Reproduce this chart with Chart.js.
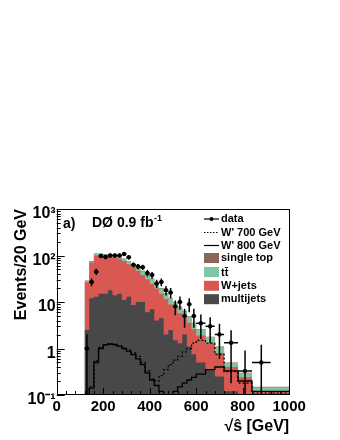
<!DOCTYPE html>
<html><head><meta charset="utf-8">
<script src="https://cdn.jsdelivr.net/npm/chart.js@4.4.1/dist/chart.umd.min.js"></script>
<style>html,body{margin:0;padding:0;background:#fff;}canvas{display:block;}</style>
</head><body>
<canvas id="c" width="340" height="440"></canvas>
<script>
// ---- data ----
const binEdges = [120,140,160,180,200,220,240,260,280,300,320,340,360,380,400,420,440,460,480,500,520,540,560,580,600,640,680,720,780,840,920,1000];
const multijets = [0.19,2.5,12,13,15,15,18,14,15,11,13,8.6,10,10,6,7,4,4.5,2,2.5,1.5,1.3,2,1.1,0.75,0.5,0.35,0.25,0.12,0.06,0.04];
const wjets = [0.96,24.5,58,87,85,83,77,77,70,65,52,46.4,37,28,25,17.5,15.5,10.5,9.5,6.3,5.7,4.4,2.6,2.5,1.85,1.4,0.95,0.55,0.28,0.18,0.08];
const ttbar = [0.03,1.3,4.2,8,7.2,7.3,8.3,8.5,8.8,8.2,8.4,7.7,6.9,8,8.1,6.8,5.9,4.55,3.65,2.9,2.55,2.1,1.75,1.28,0.92,0.64,0.46,0.27,0.09,0.055,0.027];
const singleTop = [0.02,0.7,1.8,3,2.8,2.7,2.7,2.5,2.2,1.8,1.6,1.3,1.1,1,0.9,0.7,0.6,0.45,0.35,0.3,0.25,0.2,0.15,0.12,0.08,0.06,0.04,0.03,0.01,0.005,0.003];
const wprime700 = [0.01,0.05,0.15,0.55,1.05,1.2,1.25,1.2,1.12,1.02,0.92,0.8,0.68,0.5,0.33,0.22,0.2,0.26,0.35,0.45,0.56,0.68,0.85,1.0,1.3,1.5,1.3,0.75,0.32,0.18,0.11];
const wprime800 = [0.01,0.04,0.14,0.5,1.0,1.2,1.25,1.22,1.12,1.0,0.88,0.74,0.6,0.45,0.3,0.21,0.16,0.12,0.1,0.1,0.12,0.15,0.18,0.21,0.24,0.28,0.35,0.4,0.33,0.2,0.12];
const dataCenters = [130,150,170,190,210,230,250,270,290,310,330,350,370,390,410,430,450,470,490,510,530,550,570,590,620,660,700,750,810,880];
const dataValues = [1,27,45,98,93,100,100,100,108,92,63,58,56,42,38,25,27,18,16,8,10,5,9,5,3.5,3,2,1.33,0.33,0.5];
const dataErrors = [1,5.2,6.7,9.9,9.6,10,10,10,10.4,9.6,7.9,7.6,7.5,6.5,6.2,5,5.2,4.2,4,2.8,3.2,2.2,3,2.2,1.9,1.7,1.4,1.15,0.58,0.7];
const yTickValues = [0.1,1,10,100,1000];
const yTickLabels = ['10\u207B\u00B9','1','10','10\u00B2','10\u00B3'];
const legendLabels = ['data',"W' 700 GeV","W' 800 GeV",'single top','tt\u0304','W+jets','multijets'];

// ---- styles ----
const FONT = '"Liberation Sans", Arial, Helvetica, sans-serif';
const C = {mj:'rgb(72,72,72)', wj:'rgb(218,88,82)', tt:'rgb(127,197,161)', st:'rgb(141,101,86)'};

function cumulate(...arrs){return arrs[0].map((_,i)=>arrs.reduce((s,a)=>s+a[i],0));}
function stepPoints(edges, vals){
  const p = vals.map((v,i)=>({x:edges[i], y:v}));
  p.push({x:edges[vals.length], y:vals[vals.length-1]});
  return p;
}
const cumW = cumulate(multijets, wjets);
const cumT = cumulate(multijets, wjets, ttbar);
const cumS = cumulate(multijets, wjets, ttbar, singleTop);

const errPts = [];
dataValues.forEach((v,i)=>{
  const c = dataCenters[i], e = dataErrors[i];
  errPts.push({x:c, y:Math.max(v-e,0.01)}, {x:c, y:v+e}, {x:c, y:null});
  errPts.push({x:binEdges[i], y:v}, {x:binEdges[i+1], y:v}, {x:binEdges[i+1], y:null});
});
const markerPts = dataValues.map((v,i)=>({x:dataCenters[i], y:v}));

function fillSet(label, vals, color, order){
  return {label, data:stepPoints(binEdges, vals), stepped:'after', fill:'start',
    backgroundColor:color, borderColor:'rgba(0,0,0,0)', borderWidth:1, pointRadius:0, order};
}

const decor = {
  id:'decor',
  afterDraw(chart){
    const {ctx, chartArea:a, scales:{x:xs, y:ys}} = chart;
    ctx.save();
    ctx.strokeStyle = '#000'; ctx.lineWidth = 1;
    ctx.beginPath();
    for (let e=-1;e<=3;e++){
      const d = Math.pow(10,e);
      const py = Math.round(ys.getPixelForValue(d))+0.5;
      ctx.moveTo(a.left, py); ctx.lineTo(a.left+8, py);
      if (e<3) for (let m=2;m<=9;m++){
        const p = Math.round(ys.getPixelForValue(m*d))+0.5;
        ctx.moveTo(a.left, p); ctx.lineTo(a.left+4, p);
      }
    }
    for (let v=0; v<=1000; v+=40){
      const px = Math.round(xs.getPixelForValue(v))+0.5;
      const len = v%200===0 ? 7 : 4;
      ctx.moveTo(px, a.bottom); ctx.lineTo(px, a.bottom-len);
    }
    ctx.stroke();
    ctx.strokeRect(Math.round(a.left)+0.5, Math.round(a.top)+0.5, Math.round(a.right-a.left)-1, Math.round(a.bottom-a.top)-1);

    // label text
    ctx.fillStyle = '#000';
    ctx.textBaseline = 'alphabetic'; ctx.textAlign = 'left';
    ctx.font = 'bold 14px '+FONT;
    ctx.fillText('a)', 63, 228);
    ctx.fillText('D\u00D8 0.9 fb', 92, 227);
    const w = ctx.measureText('D\u00D8 0.9 fb').width;
    ctx.font = 'bold 9px '+FONT;
    ctx.fillText('-1', 92+w+0.5, 221);

    // legend
    const rows = [219, 232.5, 245.5, 258, 272, 285.8, 299.2];
    const lx0 = 204, lx1 = 219, tx = 221;
    ctx.lineWidth = 1.2;
    ctx.beginPath(); ctx.moveTo(lx0, rows[0]); ctx.lineTo(lx1, rows[0]); ctx.stroke();
    ctx.beginPath(); ctx.arc((lx0+lx1)/2, rows[0], 2, 0, Math.PI*2); ctx.fill();
    ctx.setLineDash([1.5,1.5]);
    ctx.beginPath(); ctx.moveTo(lx0, rows[1]); ctx.lineTo(lx1, rows[1]); ctx.stroke();
    ctx.setLineDash([]);
    ctx.beginPath(); ctx.moveTo(lx0, rows[2]); ctx.lineTo(lx1, rows[2]); ctx.stroke();
    const boxes = [C.st, C.tt, C.wj, C.mj];
    boxes.forEach((col,k)=>{
      const y = rows[3+k];
      ctx.fillStyle = col; ctx.fillRect(lx0, y-5, 15, 10);
    });
    ctx.fillStyle = '#000';
    ctx.font = 'bold 11px '+FONT; ctx.textBaseline = 'middle';
    legendLabels.forEach((t,k)=>{ ctx.fillText(t, tx, rows[k] + (k===4?1:0)); });
    ctx.restore();
  }
};

new Chart(document.getElementById('c'), {
  type:'line',
  data:{datasets:[
    {label:'data', data:markerPts, showLine:false, pointRadius:2.2, pointBackgroundColor:'#000', pointBorderWidth:0, order:0},
    {label:'errors', data:errPts, borderColor:'#000', borderWidth:1.5, pointRadius:0, fill:false, spanGaps:false, order:1},
    {label:"W' 800 GeV", data:stepPoints(binEdges, wprime800), stepped:'after', borderColor:'#000', borderWidth:1.3, pointRadius:0, fill:false, order:3},
    {label:"W' 700 GeV", data:stepPoints(binEdges, wprime700), stepped:'after', borderColor:'#000', borderWidth:1.3, borderDash:[2,2], pointRadius:0, fill:false, order:4},
    fillSet('multijets', multijets, C.mj, 10),
    fillSet('W+jets', cumW, C.wj, 11),
    fillSet('tt', cumT, C.tt, 12),
    fillSet('single top', cumS, C.st, 13)
  ]},
  options:{
    responsive:false, devicePixelRatio:1, animation:false,
    layout:{padding:{top:209, right:50.8, left:0, bottom:0}},
    plugins:{legend:{display:false}, tooltip:{enabled:false}},
    elements:{point:{radius:0}},
    scales:{
      x:{type:'linear', min:0, max:1000,
        grid:{display:false, drawTicks:false}, border:{display:false},
        ticks:{stepSize:200, color:'#000', padding:3, font:{family:FONT, size:15, weight:'bold'}, maxRotation:0,
          callback:(v)=>String(v)},
        title:{display:true, text:'\u221A\u015D [GeV]', align:'end', color:'#000', font:{family:FONT, size:16, weight:'bold'}, padding:{top:0, bottom:4}},
        afterFit:(s)=>{s.height=45;}
      },
      y:{type:'logarithmic', min:0.1, max:1000,
        grid:{display:false, drawTicks:false}, border:{display:false},
        afterBuildTicks:(s)=>{s.ticks = yTickValues.map(v=>({value:v}));},
        ticks:{autoSkip:false, color:'#000', padding:1, labelOffset:5, font:{family:FONT, size:16, weight:'bold'},
          callback:(v)=>{const i = yTickValues.findIndex(t=>Math.abs(t-v)/t<1e-6); return i>=0?yTickLabels[i]:'';}},
        title:{display:true, text:'Events/20 GeV', align:'end', color:'#000', font:{family:FONT, size:16, weight:'bold'}, padding:{top:12, bottom:0}},
        afterFit:(s)=>{s.width=56.7;}
      }
    }
  },
  plugins:[decor]
});
</script>
</body></html>
